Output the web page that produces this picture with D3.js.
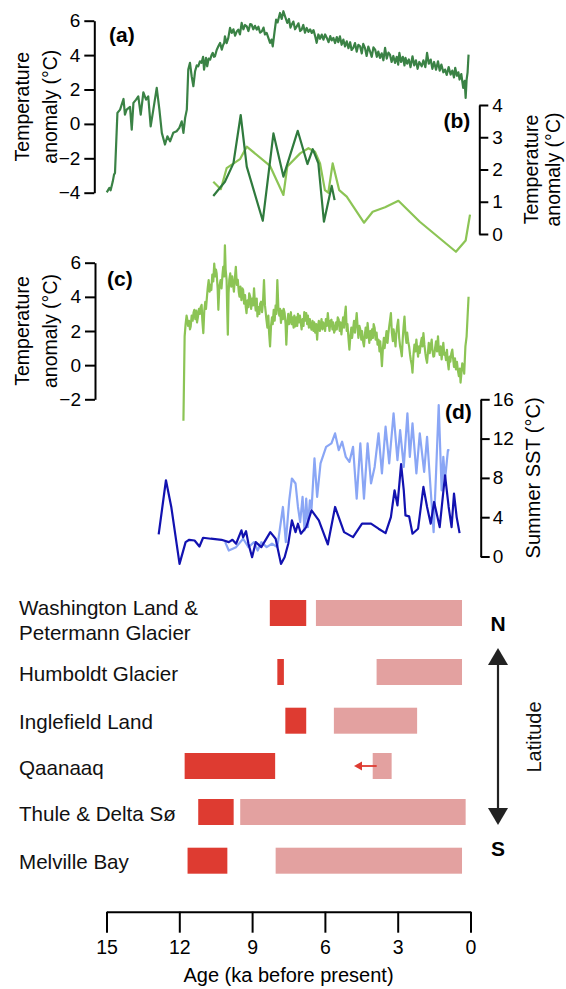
<!DOCTYPE html>
<html>
<head>
<meta charset="utf-8">
<script src="https://cdn.jsdelivr.net/npm/d3@7"></script>
<style>
  html, body { margin: 0; padding: 0; background: #fff; }
  svg { display: block; font-family: "Liberation Sans", Arial, Helvetica, sans-serif; }
</style>
</head>
<body>
<svg id="chart" width="566" height="989"></svg>
<script>
// ---------------- DATA ----------------
// Panel (a): temperature anomaly (°C) vs age (ka BP)
const ageA = [14.99,14.88,14.83,14.74,14.69,14.65,14.55,14.44,14.30,14.24,14.17,14.03,13.96,13.89,13.78,13.69,13.59,13.48,13.37,13.28,13.18,13.07,12.93,12.82,12.72,12.59,12.49,12.38,12.25,12.11,12.00,11.90,11.83,11.76,11.69,
  11.63,11.56,11.49,11.42,11.35,11.28,11.22,11.15,11.08,11.02,10.98,10.93,10.90,10.85,10.79,10.73,10.67,10.62,10.57,10.53,10.46,10.39,10.32,10.25,10.19,10.15,10.12,10.05,9.98,9.91,9.84,9.77,9.70,9.63,9.57,9.50,9.43,9.36,9.29,9.22,9.15,9.08,9.02,8.95,8.88,8.81,8.74,8.67,8.60,8.53,8.47,8.40,8.33,8.26,8.20,8.15,8.08,8.01,7.95,7.85,7.78,7.71,7.63,7.55,7.48,7.42,7.37,7.30,7.23,7.16,7.09,7.02,6.96,6.89,6.82,6.75,6.68,6.61,6.54,6.47,6.40,6.34,6.27,6.20,6.13,6.06,5.99,5.92,5.85,5.78,5.72,5.65,5.58,5.51,5.45,5.38,5.31,5.24,5.17,5.10,5.03,4.96,4.90,4.83,4.76,4.69,4.62,4.55,4.48,4.42,4.35,4.28,4.21,4.14,4.07,4.00,3.93,3.86,3.80,3.73,3.66,3.59,3.52,3.45,3.38,3.32,3.25,3.18,3.11,3.04,2.98,2.93,2.86,2.79,2.72,2.68,2.61,2.54,2.47,2.39,2.32,2.25,2.18,2.11,2.01,1.94,1.86,1.79,1.72,1.64,1.57,1.50,1.42,1.34,1.27,1.20,1.12,1.05,0.98,0.90,0.82,0.75,0.68,0.63,0.56,0.50,0.45,0.38,0.30,0.24,0.20,0.16,0.12,0.08];
const tempA = [-3.98,-3.72,-3.86,-3.34,-2.95,-2.85,0.64,0.83,1.45,0.54,0.83,0.99,-0.33,1.22,1.41,1.60,0.54,1.84,1.41,1.60,-0.14,0.83,2.09,0.83,-0.52,-1.20,-0.72,-1.01,-0.52,-0.43,-0.23,0.15,-0.52,0.35,0.83,
  3.16,3.55,2.77,2.19,3.06,3.40,3.35,3.64,3.55,3.90,3.16,3.60,3.84,3.35,3.80,3.74,4.00,4.13,3.90,3.93,4.30,4.51,4.71,4.32,4.60,4.71,5.09,4.70,5.00,5.58,5.29,5.50,5.13,5.38,5.48,5.20,5.87,5.50,5.75,5.67,5.40,5.80,5.77,5.50,5.70,5.48,5.65,5.30,5.38,5.60,5.20,5.29,5.00,4.71,4.90,4.51,5.30,6.06,5.90,6.45,6.10,6.55,6.20,5.87,6.10,5.60,5.77,5.95,5.50,5.67,5.85,5.40,5.48,5.75,5.30,5.58,5.35,5.50,5.29,5.45,5.10,4.71,5.20,4.95,5.19,4.90,5.20,5.00,4.75,5.10,4.85,5.00,4.70,5.05,4.75,5.09,4.60,4.90,4.50,4.80,4.40,4.75,4.30,4.42,4.70,4.20,4.60,4.51,4.10,4.65,4.42,3.95,4.50,4.22,3.90,4.45,4.32,3.90,4.20,3.84,4.10,3.70,4.42,3.80,4.15,4.03,3.60,3.95,3.55,3.90,3.45,4.13,3.60,3.90,3.40,3.84,3.50,3.75,3.30,3.93,3.40,3.70,3.20,3.60,3.35,3.70,3.30,4.13,3.50,3.74,3.20,3.60,3.15,3.64,3.10,3.45,3.00,3.16,2.85,3.30,2.87,3.10,2.70,3.26,2.80,3.00,2.58,2.90,2.09,2.50,1.51,2.58,3.00,4.03];

// Panel (b): two records (°C)
const ageB1 = [10.60,10.12,9.77,9.47,9.22,8.56,8.12,7.71,7.12,6.72,6.50,6.27,6.04,5.72,5.60];
const tempB1 = [1.18,1.62,2.19,3.69,2.09,0.41,3.12,1.78,3.20,2.17,2.63,2.19,0.38,1.49,1.05];
const ageB2 = [10.60,10.29,10.05,9.50,9.22,8.26,7.71,7.55,7.02,6.68,6.41,6.20,6.00,5.86,5.68,5.41,5.10,4.39,4.03,3.52,2.97,2.09,0.60,0.20,0.02];
const tempB2 = [1.62,1.39,2.04,2.32,2.71,2.11,1.21,2.09,2.50,2.66,2.55,2.19,1.36,1.28,2.19,1.36,1.16,0.35,0.69,0.83,1.03,0.38,-0.55,-0.20,0.60];

// Panel (c): temperature anomaly (°C)
const ageC = [11.83,11.78,11.74,11.70,11.68,11.64,11.60,11.56,11.53,11.49,11.45,11.41,11.38,11.34,11.30,11.27,11.23,11.19,11.15,11.12,11.08,11.05,11.01,10.97,10.93,10.90,10.86,10.83,10.79,10.75,10.72,10.68,10.64,10.60,10.56,10.52,10.49,10.46,10.42,10.39,10.35,10.30,10.26,10.22,10.19,10.15,10.12,10.09,10.05,10.03,10.00,9.97,9.94,9.90,9.86,9.82,9.79,9.75,9.71,9.67,9.63,9.59,9.55,9.52,9.48,9.44,9.40,9.37,9.33,9.29,9.26,9.23,9.19,9.15,9.12,9.08,9.04,9.00,8.96,8.92,8.88,8.85,8.81,8.78,8.74,8.70,8.67,8.63,8.59,8.55,8.51,8.47,8.44,8.41,8.37,8.33,8.30,8.26,8.22,8.18,8.15,8.11,8.07,8.03,8.00,7.96,7.92,7.88,7.85,7.81,7.77,7.73,7.70,7.66,7.62,7.59,7.55,7.51,7.48,7.44,7.40,7.37,7.33,7.29,7.26,7.22,7.18,7.14,7.11,7.07,7.03,7.00,6.96,6.92,6.88,6.85,6.81,6.77,6.73,6.70,6.66,6.62,6.59,6.55,6.51,6.47,6.44,6.40,6.36,6.32,6.29,6.25,6.21,6.18,6.14,6.10,6.07,6.03,5.99,5.96,5.92,5.88,5.84,5.81,5.77,5.73,5.69,5.66,5.62,5.58,5.54,5.51,5.47,5.43,5.39,5.36,5.32,5.29,5.25,5.21,5.18,5.14,5.10,5.07,5.03,4.99,4.95,4.91,4.88,4.84,4.80,4.76,4.73,4.69,4.65,4.62,4.58,4.54,4.50,4.47,4.43,4.39,4.35,4.32,4.28,4.24,4.20,4.17,4.13,4.10,4.06,4.02,3.99,3.95,3.91,3.87,3.83,3.79,3.75,3.72,3.68,3.65,3.61,3.57,3.54,3.50,3.46,3.42,3.39,3.35,3.31,3.28,3.24,3.20,3.17,3.13,3.09,3.06,3.02,2.98,2.94,2.90,2.87,2.83,2.79,2.76,2.72,2.68,2.64,2.61,2.57,2.53,2.49,2.46,2.42,2.39,2.35,2.31,2.27,2.23,2.20,2.16,2.12,2.09,2.05,2.01,1.98,1.94,1.90,1.86,1.83,1.79,1.75,1.72,1.68,1.64,1.60,1.57,1.53,1.50,1.46,1.42,1.38,1.34,1.31,1.27,1.23,1.19,1.15,1.12,1.08,1.05,1.01,0.97,0.94,0.90,0.86,0.83,0.79,0.75,0.71,0.68,0.64,0.60,0.56,0.52,0.48,0.44,0.41,0.37,0.34,0.30,0.26,0.21,0.16,0.08];
const tempC = [-3.26,1.69,2.40,2.90,2.76,2.30,2.60,2.10,2.27,2.90,2.60,3.10,3.24,2.70,3.20,2.50,2.85,3.30,3.00,3.40,3.53,2.60,1.88,3.20,3.70,3.30,4.01,4.50,4.98,4.30,4.70,4.40,5.30,4.90,5.95,5.20,5.60,5.37,4.50,3.24,4.60,4.98,4.50,5.30,5.76,5.20,7.02,5.60,4.98,3.50,1.78,4.20,5.00,5.37,4.60,5.20,4.79,4.30,5.10,5.76,4.70,5.00,4.30,4.01,4.60,3.80,4.50,4.40,3.60,4.10,3.40,3.05,3.80,3.40,4.20,4.01,3.30,3.90,3.50,4.50,3.60,3.20,3.90,2.85,3.40,3.00,3.60,3.72,3.10,3.70,4.98,3.50,3.10,2.66,2.20,2.90,1.90,1.10,2.30,2.80,2.40,3.24,2.60,3.50,3.00,4.98,3.40,2.90,3.30,2.47,3.20,2.70,3.30,3.05,2.40,1.20,2.50,3.00,2.40,2.66,3.10,2.40,2.80,2.20,2.90,2.27,2.80,2.30,3.00,2.50,2.90,2.56,2.10,2.70,2.30,3.10,2.60,3.05,2.40,2.90,2.20,2.70,2.30,2.08,2.60,2.00,2.50,1.90,2.40,1.49,2.20,2.60,2.00,2.27,2.70,2.10,2.50,2.37,2.00,2.70,2.30,3.05,2.40,2.00,2.60,2.66,2.10,2.50,1.90,2.08,2.50,2.10,2.80,2.66,2.00,2.50,1.80,2.27,2.80,2.20,2.90,3.43,2.00,2.40,1.60,0.91,1.70,2.20,1.60,2.08,2.60,1.90,2.40,3.05,2.20,1.60,2.30,2.08,1.50,2.00,1.40,1.10,1.80,2.20,1.60,2.47,1.80,1.30,2.00,1.49,2.10,1.60,2.40,2.17,1.50,1.90,1.20,1.49,0.80,1.40,0.60,-0.06,1.00,1.60,1.00,1.49,2.00,1.30,1.80,2.27,2.70,3.05,1.90,1.40,2.10,1.69,1.10,1.80,2.30,2.66,1.60,1.10,0.90,0.52,1.60,2.20,2.85,1.80,1.30,1.90,1.40,1.10,0.60,0.30,0.00,-0.44,0.60,1.20,0.80,1.49,1.00,0.50,1.10,0.72,1.30,1.60,1.10,1.88,1.20,0.70,0.40,0.14,0.80,1.30,0.70,1.10,1.50,0.90,0.50,0.52,1.00,1.40,0.80,1.69,1.00,0.60,1.10,0.33,0.90,1.30,0.60,0.72,0.30,0.90,0.20,-0.25,0.50,0.20,0.70,0.91,0.30,-0.10,0.40,-0.25,0.20,-0.30,-0.64,-0.20,-1.02,-0.40,0.10,-0.06,-0.50,1.10,1.69,4.01];

// Panel (d): summer SST (°C)
const ageD1 = [12.85,12.55,12.33,11.99,11.74,11.59,11.37,11.17,11.02,10.70,10.26,9.96,9.81,9.66,9.44,9.37,9.25,9.15,9.00,8.85,8.62,8.25,8.03,7.81,7.66,7.51,7.36,7.21,7.11,6.99,6.77,6.55,6.25,5.88,5.58,5.21,4.84,4.47,4.10,3.79,3.50,3.28,3.13,3.01,2.86,2.75,2.68,2.53,2.39,2.16,1.94,1.79,1.64,1.50,1.27,1.05,0.90,0.78,0.68,0.57,0.45];
const sstD1 = [2.25,7.76,5.04,-0.75,1.46,1.70,1.63,1.02,1.91,1.81,1.70,1.46,1.70,1.30,2.66,1.97,2.58,1.30,-0.07,1.46,0.95,2.48,1.81,-0.75,-0.07,1.30,3.68,2.48,3.34,2.32,2.99,4.70,3.68,1.23,5.04,2.48,1.97,3.34,3.34,2.83,2.38,4.01,6.74,5.21,9.40,6.74,4.19,4.09,2.32,2.83,7.08,5.04,3.34,5.55,2.99,8.27,5.04,2.99,6.40,4.01,2.38];
const ageD2 = [10.11,9.96,9.66,9.37,9.15,8.92,8.77,8.62,8.40,8.18,7.96,7.73,7.61,7.47,7.36,7.21,7.11,7.02,6.92,6.84,6.77,6.70,6.62,6.55,6.43,6.32,6.18,5.95,5.73,5.58,5.43,5.29,5.14,4.99,4.84,4.69,4.54,4.39,4.24,4.10,3.95,3.79,3.65,3.50,3.35,3.17,3.01,2.90,2.75,2.60,2.50,2.39,2.23,2.09,1.91,1.79,1.64,1.52,1.42,1.31,1.19,1.12,1.05,0.93,0.87];
const sstD2 = [1.46,0.61,0.95,1.81,0.95,1.46,0.61,1.46,0.95,1.30,0.95,5.04,1.46,5.72,7.94,7.43,5.04,3.50,6.06,2.66,5.89,2.99,5.72,4.87,9.98,6.06,9.47,11.16,11.51,12.53,10.83,11.68,10.14,9.63,11.16,5.89,11.51,5.89,11.51,7.43,9.12,12.53,8.45,13.21,9.47,14.58,9.81,12.87,9.12,14.58,10.14,13.55,8.45,12.53,8.61,12.19,6.74,2.48,8.45,15.42,6.74,10.14,7.76,10.83,10.83];

// Bottom panel: retreat / readvance periods (ka)
const sites = ["Washington Land & Petermann Glacier","Humboldt Glacier","Inglefield Land","Qaanaaq","Thule & Delta Sø","Melville Bay"];
const siteLines = [["Washington Land &","Petermann Glacier"],["Humboldt Glacier"],["Inglefield Land"],["Qaanaaq"],["Thule & Delta Sø"],["Melville Bay"]];
const earlyStart = [8.27,7.96,7.63,11.78,11.22,11.66];
const earlyEnd   = [6.77,7.69,6.77,8.05,9.76,10.02];
const lateStart  = [6.37,3.87,5.63,4.03,9.49,8.03];
const lateEnd    = [0.35,0.35,2.20,3.25,0.20,0.35];
const arrowFrom = 4.03, arrowTo = 4.8;   // Qaanaaq arrow (ka)

const xTicks = [15,12,9,6,3,0];
const ticksA = [-4,-2,0,2,4,6];
const ticksB = [0,1,2,3,4];
const ticksC = [-2,0,2,4,6];
const ticksD = [0,4,8,12,16];

// ---------------- COLOURS ----------------
const cDarkGreen = "#3a8245";
const cDarkGreen2 = "#2f7a3d";
const cLightGreen = "#8cc455";
const cDarkBlue = "#1212b0";
const cLightBlue = "#8aa6f5";
const cRed = "#de3b31";
const cPink = "#e3a1a0";

// ---------------- SCALES ----------------
const svg = d3.select("#chart");
const x = d3.scaleLinear().domain([15, 0]).range([106.5, 470.5]);
const ya = d3.scaleLinear().domain([-4, 6]).range([192.7, 20.7]);
const yb = d3.scaleLinear().domain([0, 4]).range([234, 105]);
const yc = d3.scaleLinear().domain([-2, 6]).range([399.3, 262.7]);
const yd = d3.scaleLinear().domain([0, 16]).range([556.5, 399.3]);

function styleAxis(g, fs) {
  g.selectAll(".domain").attr("stroke", "#000").attr("stroke-width", 2);
  g.selectAll(".tick line").attr("stroke", "#000").attr("stroke-width", 2);
  g.selectAll(".tick text").attr("fill", "#000").style("font-size", fs + "px")
    .style("font-family", '"Liberation Sans", Arial, sans-serif');
}

// ---- axes ----
const gA = svg.append("g").attr("transform", "translate(94.3,0)")
  .call(d3.axisLeft(ya).tickValues(ticksA).tickSize(10).tickSizeOuter(0).tickPadding(4).tickFormat(d3.format("d")));
styleAxis(gA, 19);
const gB = svg.append("g").attr("transform", "translate(479.3,0)")
  .call(d3.axisRight(yb).tickValues(ticksB).tickSize(9).tickSizeOuter(0).tickPadding(4).tickFormat(d3.format("d")));
styleAxis(gB, 19);
const gC = svg.append("g").attr("transform", "translate(95,0)")
  .call(d3.axisLeft(yc).tickValues(ticksC).tickSize(10).tickSizeOuter(0).tickPadding(4).tickFormat(d3.format("d")));
styleAxis(gC, 19);
const gD = svg.append("g").attr("transform", "translate(480.7,0)")
  .call(d3.axisRight(yd).tickValues(ticksD).tickSize(9).tickSizeOuter(0).tickPadding(3).tickFormat(d3.format("d")));
styleAxis(gD, 19);
const gX = svg.append("g").attr("transform", "translate(0,911.7)")
  .call(d3.axisBottom(x).tickValues(xTicks).tickSize(21).tickSizeOuter(0).tickPadding(7).tickFormat(d3.format("d")));
styleAxis(gX, 19.5);

// ---- axis titles ----
function rotTitle(lines, cx, cy, gap, fs) {
  const t = svg.append("text")
    .attr("transform", `translate(${cx},${cy}) rotate(-90)`)
    .attr("text-anchor", "middle")
    .style("font-size", fs + "px").attr("fill", "#000");
  lines.forEach((l, i) => t.append("tspan").attr("x", 0).attr("y", i * gap).text(l));
}
rotTitle(["Temperature", "anomaly (°C)"], 29, ya(1), 28, 19.5);
rotTitle(["Temperature", "anomaly (°C)"], 29, yc(2), 28, 19.5);
rotTitle(["Temperature", "anomaly (°C)"], 538, yb(2), 21.5, 19.5);
rotTitle(["Summer SST (°C)"], 540, yd(8), 0, 20);

svg.append("text").attr("x", x(7.5)).attr("y", 982).attr("text-anchor", "middle")
  .style("font-size", "20px").text("Age (ka before present)");

// ---- panel labels ----
const plab = [["(a)", 109, 41.5], ["(b)", 443.5, 127.5], ["(c)", 107, 285.5], ["(d)", 445, 419]];
plab.forEach(p => svg.append("text").attr("x", p[1]).attr("y", p[2])
  .style("font-size", "21px").style("font-weight", "bold").text(p[0]));

// ---- lines ----
function drawLine(ages, vals, ys, color, w) {
  const pts = ages.map((a, i) => [a, vals[i]]);
  svg.append("path").datum(pts)
    .attr("fill", "none").attr("stroke", color).attr("stroke-width", w)
    .attr("stroke-linejoin", "round")
    .attr("d", d3.line().x(d => x(d[0])).y(d => ys(d[1])));
}
drawLine(ageA, tempA, ya, cDarkGreen, 2.2);
drawLine(ageB2, tempB2, yb, cLightGreen, 2.2);
drawLine(ageB1, tempB1, yb, cDarkGreen2, 2.2);
drawLine(ageC, tempC, yc, cLightGreen, 2.2);
drawLine(ageD2, sstD2, yd, cLightBlue, 2.2);
drawLine(ageD1, sstD1, yd, cDarkBlue, 2.2);

// ---------------- BARS ----------------
const yRow = d3.scaleOrdinal().domain(sites).range([613, 672, 720.7, 766, 812, 860.7]);
const barH = 26;
const rows = svg.append("g");
sites.forEach((s, i) => {
  rows.append("rect").attr("x", x(earlyStart[i])).attr("width", x(earlyEnd[i]) - x(earlyStart[i]))
    .attr("y", yRow(s) - barH / 2).attr("height", barH).attr("fill", cRed);
  rows.append("rect").attr("x", x(lateStart[i])).attr("width", x(lateEnd[i]) - x(lateStart[i]))
    .attr("y", yRow(s) - barH / 2).attr("height", barH).attr("fill", cPink);
  const lines = siteLines[i];
  const t = rows.append("text").attr("x", 19).style("font-size", "20.6px").attr("fill", "#111");
  lines.forEach((l, j) => {
    const off = lines.length === 1 ? 8.5 : (j === 0 ? 2 : 26.5);
    t.append("tspan").attr("x", 19).attr("y", yRow(s) + off).text(l);
  });
});
// Qaanaaq arrow
const qa = yRow("Qaanaaq");
svg.append("line").attr("x1", x(arrowFrom) + 4).attr("x2", x(arrowTo) + 6)
  .attr("y1", qa).attr("y2", qa).attr("stroke", cRed).attr("stroke-width", 1.8);
svg.append("path").attr("d", `M${x(arrowTo)},${qa} l8,-4.5 l0,9 z`).attr("fill", cRed);

// Latitude arrow
const ax = 498;
svg.append("line").attr("x1", ax).attr("x2", ax).attr("y1", 660).attr("y2", 815)
  .attr("stroke", "#222").attr("stroke-width", 2.2);
svg.append("path").attr("d", `M${ax},648 l-10,17 l20,0 z`).attr("fill", "#222");
svg.append("path").attr("d", `M${ax},825 l-10,-17 l20,0 z`).attr("fill", "#222");
svg.append("text").attr("x", ax).attr("y", 630.5).attr("text-anchor", "middle")
  .style("font-size", "21px").style("font-weight", "bold").text("N");
svg.append("text").attr("x", ax).attr("y", 855.5).attr("text-anchor", "middle")
  .style("font-size", "21px").style("font-weight", "bold").text("S");
svg.append("text").attr("transform", `translate(540.5,737) rotate(-90)`).attr("text-anchor", "middle")
  .style("font-size", "20px").attr("fill", "#111").text("Latitude");
</script>
</body>
</html>
